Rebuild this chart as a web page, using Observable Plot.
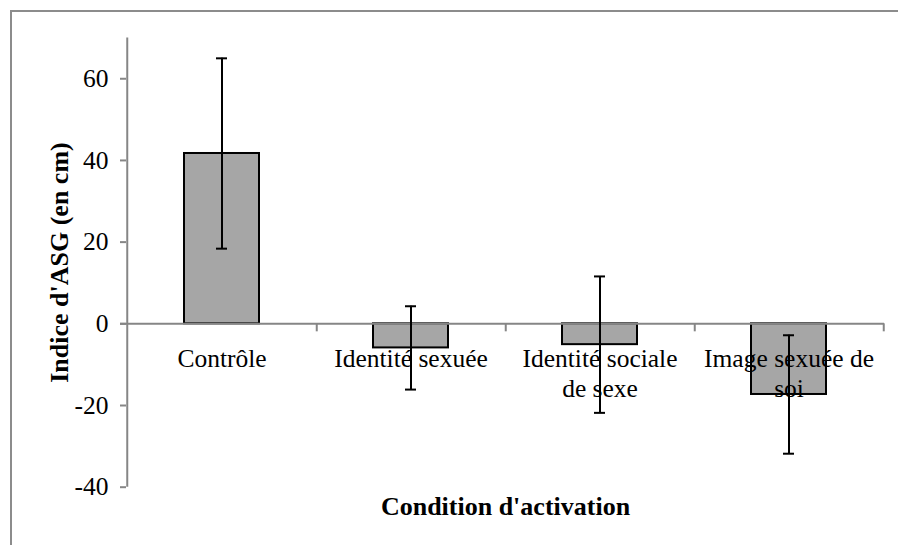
<!DOCTYPE html>
<html>
<head>
<meta charset="utf-8">
<script src="https://cdn.jsdelivr.net/npm/d3@7"></script>
<script src="https://cdn.jsdelivr.net/npm/@observablehq/plot@0.6"></script>
<style>
  html, body { margin: 0; padding: 0; background: white; }
  #wrap { position: relative; width: 898px; height: 545px; overflow: hidden; }
  #border { position: absolute; left: 10px; top: 10px; width: 1000px; height: 1000px;
            border-left: 2px solid #8c8c8c; border-top: 2px solid #8c8c8c; pointer-events: none; }
</style>
</head>
<body>
<div id="wrap"><div id="border"></div></div>
<script>
// ---- data ----
const categories = ["Contrôle", "Identité sexuée", "Identité sociale de sexe", "Image sexuée de soi"];
const categoryLabels = ["Contrôle", "Identité sexuée", "Identité sociale\nde sexe", "Image sexuée de\nsoi"];
const means = [41.7, -5.9, -5.1, -17.3];
const errors = [23.3, 10.2, 16.7, 14.5];
const yTicks = [-40, -20, 0, 20, 40, 60];
const yDomain = [-40, 70];
const xTitle = "Condition d'activation";
const yTitle = "Indice d'ASG (en cm)";

const data = categories.map((c, i) => ({cat: c, label: categoryLabels[i], mean: means[i], err: errors[i]}));

// ---- layout ----
const W = 898, H = 545, mL = 126, mR = 14, mT = 37.4, mB = 58.3;
const bw = (W - mL - mR) / categories.length;
const axisGray = "#868686";
const font = "'Liberation Serif', 'Times New Roman', serif";

const chart = Plot.plot({
  width: W, height: H,
  marginLeft: mL, marginRight: mR, marginTop: mT, marginBottom: mB,
  style: {fontFamily: font, fontSize: "25.5px", background: "transparent", color: "black"},
  x: {domain: categories, padding: 0, axis: null},
  y: {domain: yDomain, axis: null},
  marks: [
    // y axis line
    Plot.ruleX([categories[0]], {x: d => d, y1: yDomain[0], y2: yDomain[1], dx: -bw / 2, stroke: axisGray, strokeWidth: 2}),
    Plot.axisY({ticks: yTicks, label: null, tickSize: 6, tickPadding: 12, stroke: axisGray, strokeWidth: 2, fill: "black",
                fontSize: 25.5, tickFormat: d => String(d)}),
    // bars
    Plot.barY(data, {x: "cat", y: "mean", fill: "#a6a6a6", stroke: "black", strokeWidth: 2, insetLeft: 57, insetRight: 57}),
    // zero line (category axis)
    Plot.ruleY([0], {stroke: axisGray, strokeWidth: 2, insetLeft: -6}),
    // category boundary ticks
    Plot.ruleX(categories, {x: d => d, y1: 0, y2: 0, insetBottom: -8, dx: bw / 2, stroke: axisGray, strokeWidth: 2}),
    // category labels
    Plot.text(data, {x: "cat", y: 0, text: "label", lineAnchor: "top", textAnchor: "middle", dy: 21, lineHeight: 1.2, fontSize: 25.5, fill: "black"}),
    // error bars
    Plot.ruleX(data, {x: "cat", y1: d => d.mean - d.err, y2: d => d.mean + d.err, stroke: "black", strokeWidth: 2}),
    Plot.tickY(data, {x: "cat", y: d => d.mean + d.err, insetLeft: 89, insetRight: 89, stroke: "black", strokeWidth: 2}),
    Plot.tickY(data, {x: "cat", y: d => d.mean - d.err, insetLeft: 89, insetRight: 89, stroke: "black", strokeWidth: 2}),
    // axis titles
    Plot.text([xTitle], {frameAnchor: "bottom", textAnchor: "middle", lineAnchor: "bottom", dy: 27.3, fontWeight: "bold", fontSize: 26, fill: "black"}),
    Plot.text([yTitle], {frameAnchor: "left", textAnchor: "middle", lineAnchor: "bottom", rotate: -90, dx: -59, fontWeight: "bold", fontSize: 26, fill: "black"})
  ]
});
document.getElementById("wrap").insertBefore(chart, document.getElementById("border"));
</script>
</body>
</html>
